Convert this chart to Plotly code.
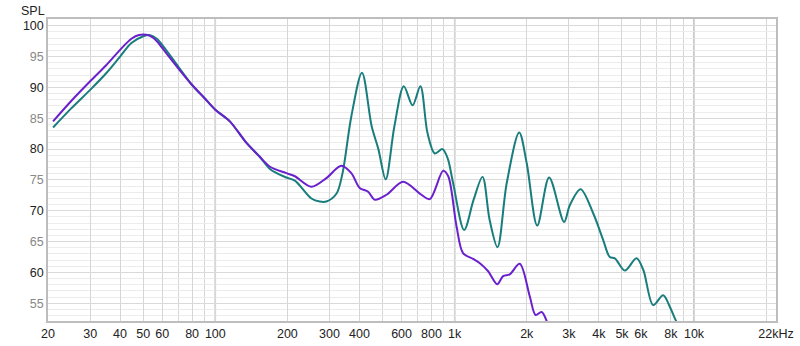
import plotly.graph_objects as go

# ---- data ----
teal_freq = [21, 25, 30, 35, 40, 44.6, 50, 53, 57, 60, 70, 80, 90, 100, 115, 135, 153, 170, 198, 215,
             252, 273, 291, 321, 340, 370, 410, 450, 480, 515, 560, 613, 667, 719, 770, 826, 889, 935, 985,
             1095, 1200, 1307, 1400, 1510, 1650, 1860, 2000, 2212, 2481, 2865, 3027, 3357, 3790, 4170,
             4446, 4670, 5140, 5750, 6140, 6750, 7430, 7930, 8400, 9000]
teal_spl = [83.5, 86.6, 89.6, 92.3, 95.0, 97.2, 98.3, 98.5, 97.9, 96.9, 93.4, 90.4, 88.3, 86.4, 84.5, 81.0, 78.8, 76.7, 75.4, 74.9,
            72.0, 71.5, 71.5, 72.8, 76.1, 85.3, 92.4, 83.7, 80.0, 75.1, 83.7, 90.2, 87.1, 90.2, 82.6, 79.3, 80.0, 78.5, 74.5,
            66.9, 71.8, 75.5, 68.5, 64.1, 74.5, 82.7, 77.7, 67.6, 75.4, 68.2, 70.9, 73.5, 69.6, 65.3,
            62.5, 62.3, 60.3, 62.3, 60.4, 54.7, 56.3, 54.4, 52.2, 50.0]

purple_freq = [21, 25, 30, 35, 40, 44.6, 48, 53, 57, 60, 70, 80, 90, 100, 115, 135, 153, 170, 198, 215,
               252, 291, 336, 370, 401, 435, 464, 519, 609, 715, 787, 895, 940, 1018, 1085, 1194, 1274, 1380,
               1505, 1593, 1698, 1870, 2060, 2178, 2307, 2420, 2550]
purple_spl = [84.5, 87.8, 91.0, 93.6, 96.1, 97.9, 98.5, 98.4, 97.5, 96.4, 93.1, 90.4, 88.3, 86.4, 84.5, 81.0, 78.8, 77.1, 76.1, 75.6,
              73.9, 75.3, 77.3, 76.1, 73.7, 73.1, 71.8, 72.6, 74.7, 72.8, 71.9, 76.5, 75.6, 67.5, 63.1, 62.2, 61.5, 60.2,
              58.1, 59.4, 59.7, 61.4, 56.1, 53.1, 53.6, 52.2, 49.0]

x_tick_vals = [20, 30, 40, 50, 60, 80, 100, 200, 300, 400, 600, 800, 1000, 2000, 3000, 4000, 5000, 6000, 8000, 10000, 22000]
x_tick_text = ["20", "30", "40", "50", "60", "80", "100", "200", "300", "400", "600", "800", "1k", "2k", "3k", "4k",
               "5k", "6k", "8k", "10k", "22kHz"]
x_minor_vals = [70, 90, 500, 700, 900, 7000, 9000, 20000]
decade_lines = [100, 1000, 10000]

y_tick_vals = [55, 60, 65, 70, 75, 80, 85, 90, 95, 100]
y_minor_vals = [v for v in range(53, 101)]

TEAL = "#197d7d"
PURPLE = "#6a20cc"

fig = go.Figure()
fig.add_trace(go.Scatter(x=teal_freq, y=teal_spl, mode="lines",
                         line=dict(color=TEAL, width=2, shape="spline", smoothing=0.9),
                         showlegend=False, hoverinfo="skip"))
fig.add_trace(go.Scatter(x=purple_freq, y=purple_spl, mode="lines",
                         line=dict(color=PURPLE, width=2, shape="spline", smoothing=0.9),
                         showlegend=False, hoverinfo="skip"))

y_text = [("<span style='color:#888'>%d</span>" % v) if v % 10 == 5 else str(v) for v in y_tick_vals]

for f in decade_lines:
    fig.add_shape(type="line", xref="x", yref="paper", x0=f, x1=f, y0=0, y1=1,
                  line=dict(color="#b4b4b4", width=1.5), layer="below")

fig.update_layout(
    width=800, height=346,
    margin=dict(l=48, r=24, t=19, b=25),
    paper_bgcolor="white", plot_bgcolor="white",
    font=dict(family="Liberation Sans, Arial, sans-serif", size=12, color="#222"),
    xaxis=dict(type="log", range=[1.30103, 4.3424], automargin=False,
               tickvals=x_tick_vals, ticktext=x_tick_text, ticks="",
               showgrid=True, gridcolor="#d6d6d6", gridwidth=1.2,
               minor=dict(tickvals=x_minor_vals, showgrid=True, gridcolor="#d6d6d6", gridwidth=1.2, ticks=""),
               showline=True, linecolor="#bdbdbd", linewidth=1.5, mirror=True, zeroline=False,
               tickfont=dict(size=12.5, color="#222")),
    yaxis=dict(range=[52.13, 101.1], automargin=False, tickvals=y_tick_vals, ticktext=y_text, ticks="",
               showgrid=True, gridcolor="#dadada", gridwidth=1.2,
               minor=dict(tickvals=y_minor_vals, showgrid=True, gridcolor="#ececec", gridwidth=1, ticks=""),
               showline=True, linecolor="#bdbdbd", linewidth=1.5, mirror=True, zeroline=False,
               tickfont=dict(size=12.5, color="#222")),
    annotations=[dict(text="SPL", xref="paper", yref="paper", x=0, y=1, xanchor="right", yanchor="middle",
                      xshift=-1, yshift=8, showarrow=False, font=dict(size=12.5, color="#222"))],
)

fig.write_html("out.html",
               config={"displayModeBar": False},
               post_script="document.body.style.margin='0';document.body.style.padding='0';"
                           "document.body.style.overflow='hidden';")
